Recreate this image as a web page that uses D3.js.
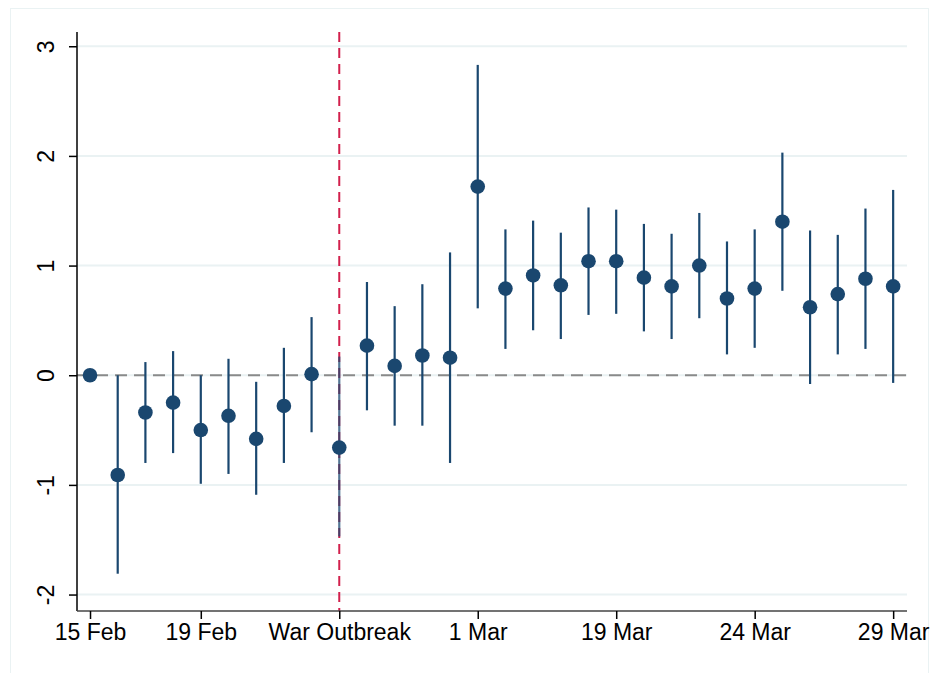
<!DOCTYPE html>
<html>
<head>
<meta charset="utf-8">
<script src="https://cdn.jsdelivr.net/npm/d3@7"></script>
<style>
  body { margin: 0; background: #fff; }
  text { font-family: "Liberation Sans", Arial, sans-serif; }
</style>
</head>
<body>
<div id="chart"></div>
<script>
// event-study coefficients, one per day index
const days = d3.range(30);
const coef = [0, -0.91, -0.34, -0.25, -0.50, -0.37, -0.58, -0.28, 0.01, -0.66,
  0.27, 0.085, 0.18, 0.16, 1.72, 0.79, 0.91, 0.82, 1.04, 1.04,
  0.89, 0.81, 1.00, 0.70, 0.79, 1.40, 0.62, 0.74, 0.88, 0.81];
const ciHigh = [null, 0, 0.12, 0.22, 0, 0.15, -0.06, 0.25, 0.53, 0.17,
  0.85, 0.63, 0.83, 1.12, 2.83, 1.33, 1.41, 1.30, 1.53, 1.51,
  1.38, 1.29, 1.48, 1.22, 1.33, 2.03, 1.32, 1.28, 1.52, 1.69];
const ciLow = [null, -1.81, -0.80, -0.71, -0.99, -0.90, -1.09, -0.80, -0.52, -1.47,
  -0.32, -0.46, -0.46, -0.80, 0.61, 0.24, 0.41, 0.33, 0.55, 0.56,
  0.40, 0.33, 0.52, 0.19, 0.25, 0.77, -0.08, 0.19, 0.24, -0.07];
const xTickPos = [0, 4, 9, 14, 19, 24, 29];
const xTickLabels = ["15 Feb", "19 Feb", "War Outbreak", "1 Mar", "19 Mar", "24 Mar", "29 Mar"];
const yTicks = [-2, -1, 0, 1, 2, 3];
const warIndex = 9;

const W = 930, H = 673;
const svg = d3.select("#chart").append("svg").attr("width", W).attr("height", H);

// outer frame
svg.append("rect").attr("x", 10.5).attr("y", 8.5).attr("width", 918).attr("height", 680)
  .attr("fill", "#fff").attr("stroke", "#eaf2f3").attr("stroke-width", 1);

const x = d3.scaleLinear().domain([-0.47, 29.5]).range([77, 907]);
const y = d3.scaleLinear().domain([-2.15, 3.13]).range([611, 32]);

// gridlines
svg.append("g").selectAll("line").data(yTicks).join("line")
  .attr("x1", x.range()[0]).attr("x2", x.range()[1])
  .attr("y1", d => y(d)).attr("y2", d => y(d))
  .attr("stroke", "#eaf2f3").attr("stroke-width", 2);

// zero reference line
svg.append("line")
  .attr("x1", x.range()[0]).attr("x2", x.range()[1])
  .attr("y1", y(0)).attr("y2", y(0))
  .attr("stroke", "#8a8a8a").attr("stroke-width", 2).attr("stroke-dasharray", "12,7");

// war outbreak line
svg.append("line")
  .attr("x1", x(warIndex)).attr("x2", x(warIndex))
  .attr("y1", y.range()[1]).attr("y2", y.range()[0])
  .attr("stroke", "#d2204c").attr("stroke-width", 2).attr("stroke-dasharray", "10,6");

const pts = days.map(i => ({ i, c: coef[i], lo: ciLow[i], hi: ciHigh[i] }));

// confidence intervals
svg.append("g").selectAll("line").data(pts.filter(d => d.lo !== null)).join("line")
  .attr("x1", d => x(d.i)).attr("x2", d => x(d.i))
  .attr("y1", d => y(d.lo)).attr("y2", d => y(d.hi))
  .attr("stroke", "#1a476f").attr("stroke-width", 2.2)
  .attr("stroke-opacity", d => d.i === warIndex ? 0.75 : 1);

// point estimates
svg.append("g").selectAll("circle").data(pts).join("circle")
  .attr("cx", d => x(d.i)).attr("cy", d => y(d.c)).attr("r", 7.3)
  .attr("fill", "#1a476f");

// y axis
const yAxis = svg.append("g").attr("transform", `translate(${x.range()[0]},0)`)
  .call(d3.axisLeft(y).tickValues(yTicks).tickSize(8).tickPadding(0).tickFormat(d => String(d)));
yAxis.select(".domain").attr("stroke", "#000").attr("stroke-width", 1.5).attr("d", `M0,${y.range()[1]}V${y.range()[0]}`);
yAxis.selectAll(".tick line").attr("stroke", "#000").attr("stroke-width", 1.5);
yAxis.selectAll(".tick text").attr("x", null).attr("dy", null)
  .attr("transform", "translate(-31,0) rotate(-90)")
  .attr("text-anchor", "middle").attr("dy", "0.35em")
  .attr("fill", "#000").attr("font-size", 23);

// x axis
const xAxis = svg.append("g").attr("transform", `translate(0,${y.range()[0]})`)
  .call(d3.axisBottom(x).tickValues(xTickPos).tickSize(8).tickPadding(5)
    .tickFormat((d, k) => xTickLabels[k]));
xAxis.select(".domain").attr("stroke", "#444").attr("stroke-width", 1.5).attr("d", `M${x.range()[0]},0H${x.range()[1]}`);
xAxis.selectAll(".tick line").attr("stroke", "#000").attr("stroke-width", 1.5);
xAxis.selectAll(".tick text").attr("fill", "#000").attr("font-size", 23);
</script>
</body>
</html>
